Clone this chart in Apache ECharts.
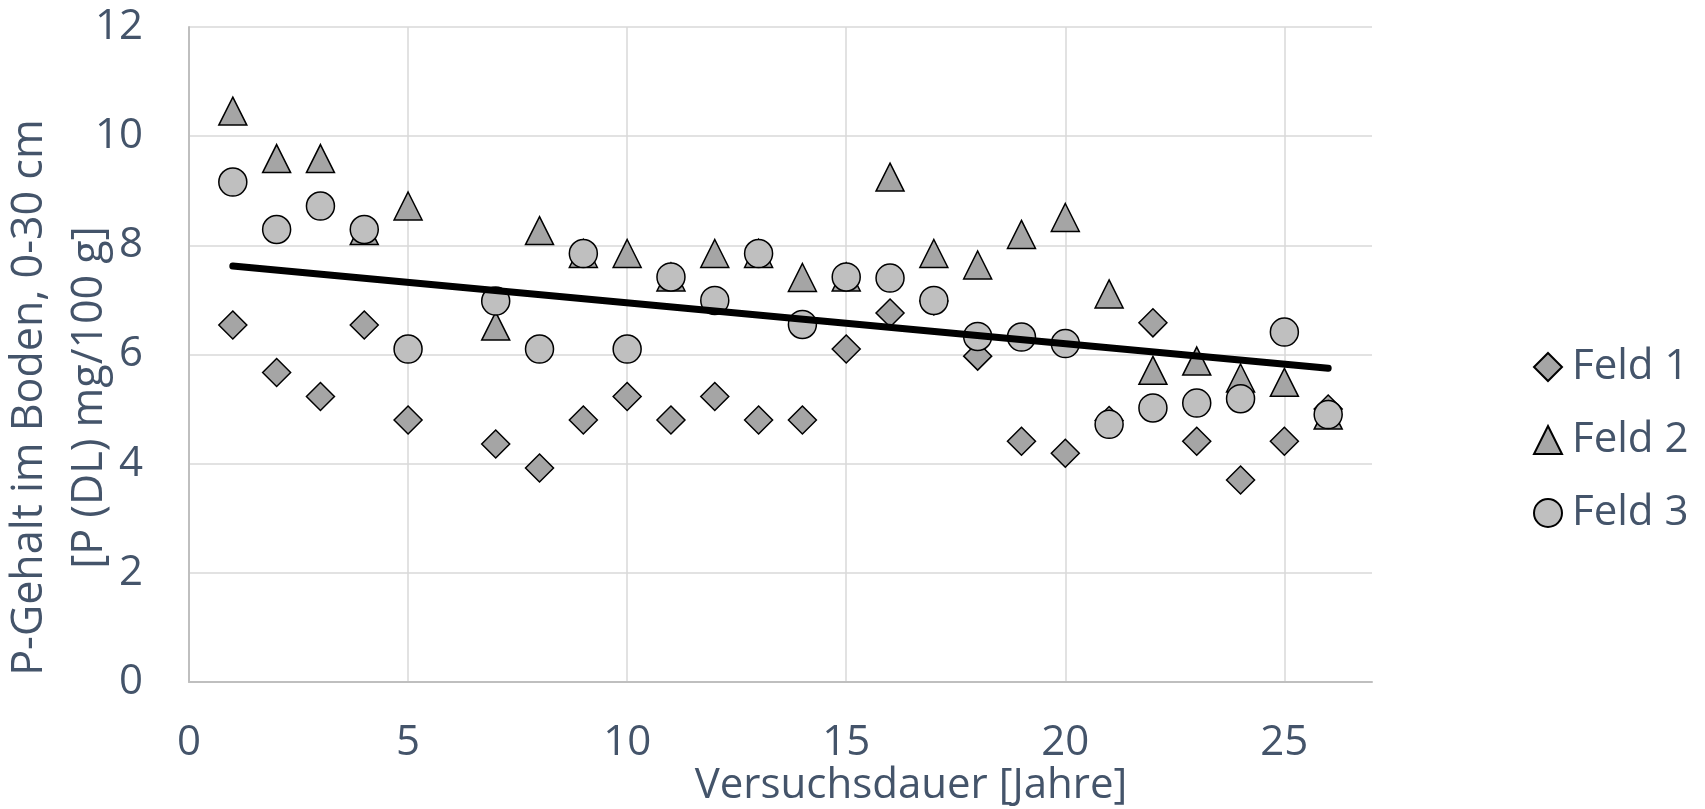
<!DOCTYPE html>
<html>
<head>
<meta charset="utf-8">
<script src="https://cdn.jsdelivr.net/npm/echarts@6/dist/echarts.min.js"></script>
<style>
    html, body { margin: 0; padding: 0; background: #fff; }
    #pChart { width: 1705px; height: 809px; }
</style>
</head>
<body>
<div id="pChart"></div>
<script>
    // Versuchsjahre (Jahr 6 fehlt in allen Feldern)
    var years = [1, 2, 3, 4, 5, 7, 8, 9, 10, 11, 12, 13, 14, 15, 16, 17, 18, 19, 20, 21, 22, 23, 24, 25, 26];
    var feld1 = [6.54, 5.67, 5.23, 6.54, 4.80, 4.36, 3.92, 4.80, 5.23, 4.80, 5.23, 4.80, 4.80, 6.10, 6.76, 6.98, 5.97, 4.41, 4.19, 4.79, 6.58, 4.41, 3.70, 4.41, 5.00];
    var feld2 = [10.46, 9.59, 9.59, 8.27, 8.72, 6.52, 8.27, 7.85, 7.85, 7.42, 7.85, 7.85, 7.41, 7.42, 9.25, 7.85, 7.64, 8.20, 8.51, 7.11, 5.71, 5.88, 5.57, 5.49, 4.89];
    var feld3 = [9.16, 8.29, 8.72, 8.29, 6.10, 6.98, 6.10, 7.85, 6.10, 7.42, 6.99, 7.85, 6.55, 7.42, 7.40, 6.99, 6.33, 6.32, 6.20, 4.72, 5.02, 5.11, 5.19, 6.41, 4.90];
    // Trendlinie (Endpunkte)
    var trendYears = [1, 26];
    var trendValues = [7.62, 5.75];

    var textColor = '#44546a';
    var fontName = '"Open Sans", "Noto Sans", sans-serif';

    function pairs(xs, ys) {
        var out = [];
        for (var i = 0; i < xs.length; i++) {
            out.push([xs[i], ys[i]]);
        }
        return out;
    }

    function scatter(name, values, symbol, size, fill) {
        return {
            name: name,
            type: 'scatter',
            data: pairs(years, values),
            symbol: symbol,
            symbolSize: size,
            itemStyle: {
                color: fill,
                borderColor: '#000',
                borderWidth: 1.5,
                opacity: 1
            },
            z: 2
        };
    }

    var chart = echarts.init(document.getElementById('pChart'), null, { renderer: 'canvas' });
    var option = {
        animation: false,
        backgroundColor: '#fff',
        textStyle: { fontFamily: fontName },
        grid: { left: 189, top: 27, right: 333, bottom: 127, outerBoundsMode: 'none', containLabel: false },
        legend: {
            data: ['Feld 1', 'Feld 2', 'Feld 3'],
            orient: 'vertical',
            left: 1528,
            top: 339,
            itemWidth: 28,
            itemHeight: 28,
            itemGap: 27,
            textStyle: { color: textColor, fontSize: 42, lineHeight: 46, fontFamily: fontName, padding: [0, 0, 0, 5] }
        },
        xAxis: {
            type: 'value',
            min: 0,
            max: 27,
            interval: 5,
            name: 'Versuchsdauer [Jahre]',
            nameLocation: 'middle',
            nameGap: 79,
            nameMoveOverlap: false,
            nameTextStyle: { color: textColor, fontSize: 42, lineHeight: 50, fontFamily: fontName, padding: [0, 0, 0, 261] },
            axisLine: { show: true, lineStyle: { color: '#bfbfbf', width: 2 } },
            axisTick: { show: false },
            axisLabel: { color: textColor, fontSize: 42, lineHeight: 42, margin: 40, showMaxLabel: false, fontFamily: fontName },
            splitLine: { show: true, showMaxLine: false, lineStyle: { color: '#d9d9d9', width: 1.5 } }
        },
        yAxis: {
            type: 'value',
            min: 0,
            max: 12,
            interval: 2,
            name: 'P-Gehalt im Boden, 0-30 cm\n[P (DL) mg/100 g]',
            nameLocation: 'middle',
            nameGap: 69,
            nameMoveOverlap: false,
            nameTextStyle: { color: textColor, fontSize: 43, lineHeight: 60, fontFamily: fontName, padding: [0, 86, 0, 0] },
            axisLine: { show: true, lineStyle: { color: '#bfbfbf', width: 2 } },
            axisTick: { show: false },
            axisLabel: { color: textColor, fontSize: 42, margin: 46, fontFamily: fontName },
            splitLine: { show: true, lineStyle: { color: '#d9d9d9', width: 1.5 } }
        },
        series: [
            scatter('Feld 1', feld1, 'diamond', 28, '#a5a5a5'),
            scatter('Feld 2', feld2, 'triangle', 28, '#a5a5a5'),
            scatter('Feld 3', feld3, 'circle', 28, '#bfbfbf'),
            {
                name: 'Trend',
                type: 'line',
                data: pairs(trendYears, trendValues),
                showSymbol: false,
                symbol: 'none',
                lineStyle: { color: '#000', width: 7, cap: 'round' },
                z: 5,
                silent: true
            }
        ]
    };
    chart.setOption(option);
</script>
</body>
</html>
